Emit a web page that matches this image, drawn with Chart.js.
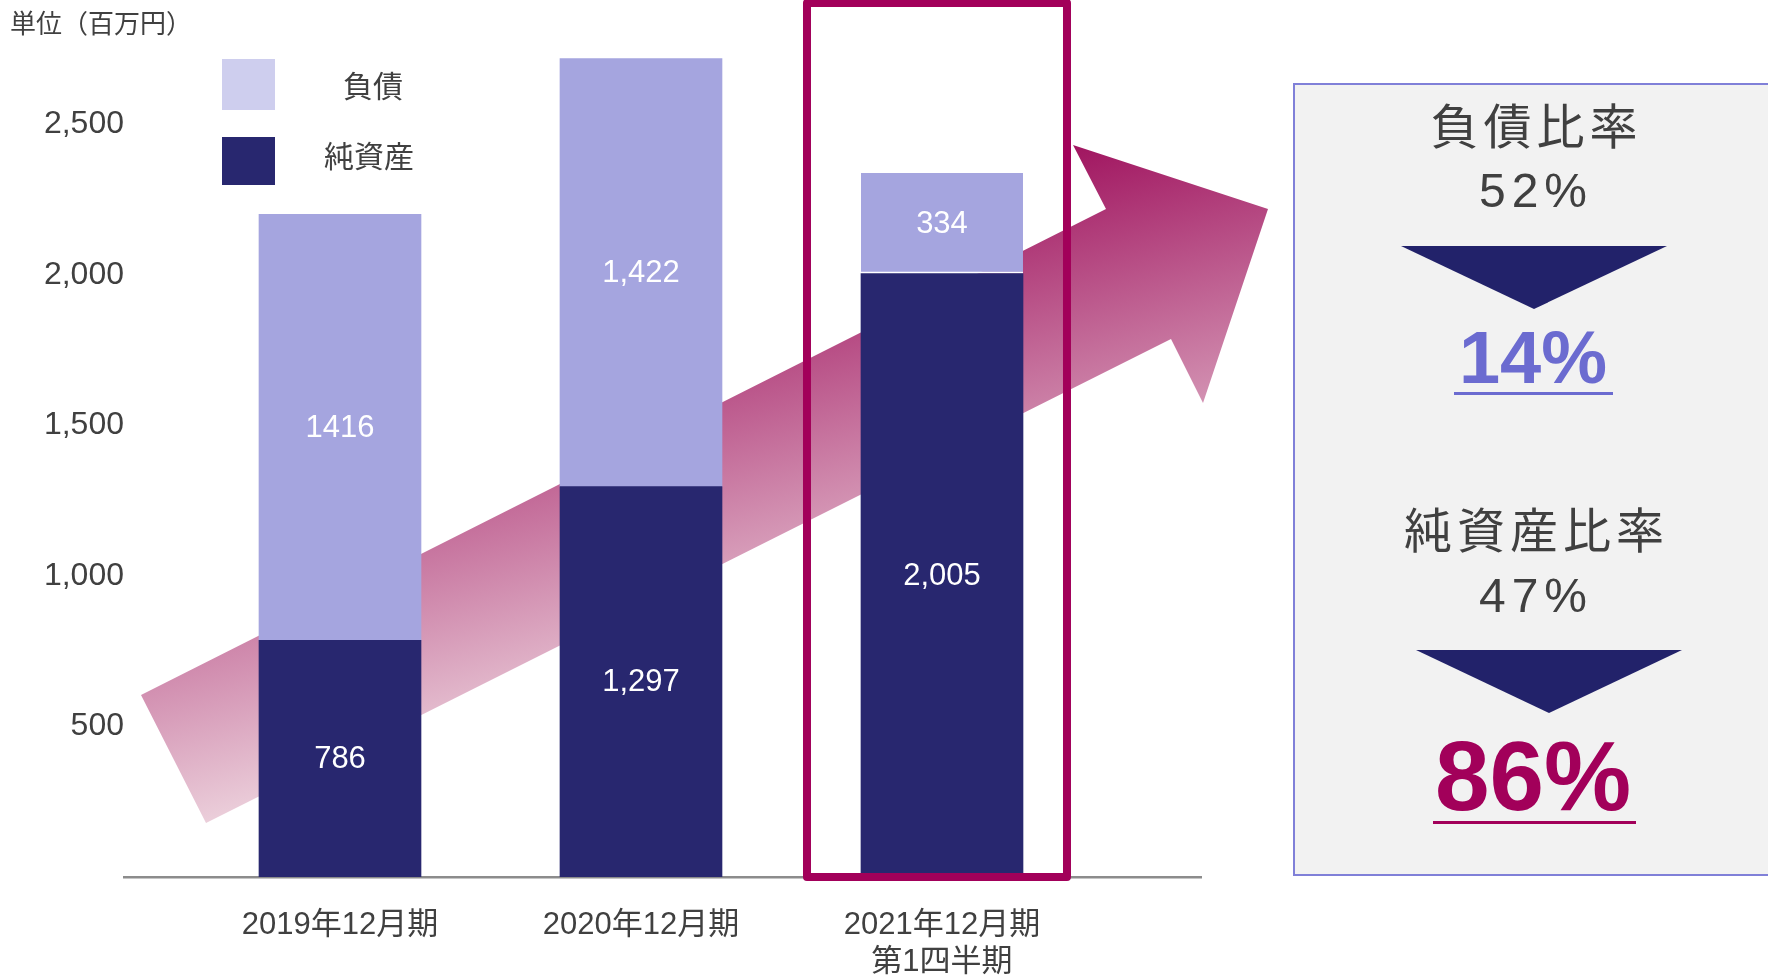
<!DOCTYPE html>
<html lang="ja">
<head>
<meta charset="utf-8">
<title>負債・純資産の推移</title>
<script src="https://cdn.jsdelivr.net/npm/chart.js@4/dist/chart.umd.min.js"></script>
<style>
  html, body { margin: 0; padding: 0; background: #ffffff; }
  #wrap { position: relative; width: 1768px; height: 978px; overflow: hidden; background: #ffffff; }
  #c { position: absolute; left: 0; top: 0; }
  .t { position: absolute; white-space: nowrap; text-align: center; color: #404040; }
  .jp { font-family: "Noto Sans CJK JP", "Noto Sans", sans-serif; }
  .lat { font-family: "Liberation Sans", Arial, sans-serif; }
</style>
</head>
<body>
<div id="wrap">
  <canvas id="c" width="1768" height="978"></canvas>
</div>
<script>
// ---------------- data ----------------
const unitLabel = "単位（百万円）";
const categories = ["2019年12月期", "2020年12月期", "2021年12月期\n第1四半期"];
const seriesNames = ["純資産", "負債"];
const netAssets = [786, 1297, 2005];
const liabilities = [1416, 1422, 334];
const netAssetLabels = ["786", "1,297", "2,005"];
const liabilityLabels = ["1416", "1,422", "334"];
const yTicks = [500, 1000, 1500, 2000, 2500];
const yTickLabels = ["500", "1,000", "1,500", "2,000", "2,500"];
const ratioTitles = ["負債比率", "純資産比率"];
const ratioBefore = ["52%", "47%"];
const ratioAfter = ["14%", "86%"];

// ---------------- styles ----------------
const COL_NET = "#28276F";
const COL_LIAB = "#A5A5DF";
const COL_LIAB_LEGEND = "#CECEEE";
const COL_TEXT = "#404040";
const COL_HIGHLIGHT = "#A2005A";
const FONT = '"Liberation Sans", "Noto Sans CJK JP", sans-serif';

// decorative arrow (page pixels)
const arrowPts = [[141,695],[1106,209],[1073,145],[1268,209],[1203,403],[1171,339],[206,823]];

const arrowPlugin = {
  id: "arrow",
  beforeDatasetsDraw(chart) {
    const ctx = chart.ctx;
    ctx.save();
    const g = ctx.createLinearGradient(112, 409, 225, 817);
    g.addColorStop(0, "#A0145F");
    g.addColorStop(1, "#EBCEDA");
    ctx.fillStyle = g;
    ctx.beginPath();
    arrowPts.forEach((p, i) => i ? ctx.lineTo(p[0], p[1]) : ctx.moveTo(p[0], p[1]));
    ctx.closePath();
    ctx.fill();
    ctx.restore();
  }
};

const labelPlugin = {
  id: "valueLabels",
  afterDatasetsDraw(chart) {
    const ctx = chart.ctx;
    const texts = [netAssetLabels, liabilityLabels];
    ctx.save();
    ctx.font = "31px " + FONT;
    ctx.fillStyle = "#ffffff";
    ctx.textAlign = "center";
    ctx.textBaseline = "middle";
    chart.data.datasets.forEach((ds, di) => {
      const meta = chart.getDatasetMeta(di);
      meta.data.forEach((el, i) => {
        const p = el.getProps(["x", "y", "base"], true);
        ctx.fillText(texts[di][i], p.x, (p.y + p.base) / 2 + 1);
      });
    });
    // highlight frame around the latest period
    const xs = chart.scales.x, ys = chart.scales.y;
    const cx = xs.getPixelForValue(categories.length - 1);
    const bottom = ys.getPixelForValue(0);
    ctx.strokeStyle = COL_HIGHLIGHT;
    ctx.lineWidth = 8;
    ctx.lineJoin = "round";
    ctx.strokeRect(cx - 135, 3, 260, bottom - 3);
    ctx.restore();
  }
};

Chart.defaults.font.family = FONT;

new Chart(document.getElementById("c"), {
  type: "bar",
  data: {
    datasets: [
      { label: seriesNames[0], data: netAssets.map((v, i) => ({ x: i, y: v })), backgroundColor: COL_NET },
      {
        label: seriesNames[1], data: liabilities.map((v, i) => ({ x: i, y: v })), backgroundColor: COL_LIAB,
        borderColor: "#ffffff",
        borderSkipped: false,
        borderWidth: (c) => (c.dataIndex === categories.length - 1 ? { bottom: 2, top: 0, left: 0, right: 0 } : 0)
      }
    ]
  },
  options: {
    responsive: false,
    animation: false,
    devicePixelRatio: 1,
    layout: { padding: { left: 0, right: 567, top: 19, bottom: 0 } },
    datasets: { bar: { barThickness: 162 } },
    plugins: { legend: { display: false }, tooltip: { enabled: false } },
    scales: {
      x: {
        type: "linear",
        stacked: true,
        offset: false,
        min: -0.7176,
        max: 2.8605,
        grid: { display: false, drawTicks: false, offset: false },
        border: { display: true, color: "#8c8c8c", width: 2.5 },
        afterBuildTicks(axis) { axis.ticks = categories.map((_, i) => ({ value: i })); },
        afterFit(axis) { axis.height = 101; },
        ticks: {
          autoSkip: false,
          maxRotation: 0,
          padding: 30,
          color: COL_TEXT,
          font: { size: 31, lineHeight: 1.2 },
          callback: (v) => (categories[v] !== undefined ? categories[v].split("\n") : "")
        }
      },
      y: {
        stacked: true,
        min: 0,
        max: 2850,
        grid: { display: false, drawTicks: false },
        border: { display: false },
        afterBuildTicks(axis) { axis.ticks = yTicks.map(v => ({ value: v })); },
        afterFit(axis) { axis.width = 124; },
        ticks: {
          padding: 0,
          color: COL_TEXT,
          font: { size: 32 },
          callback: (v) => { const k = yTicks.indexOf(v); return k >= 0 ? yTickLabels[k] : ""; }
        }
      }
    }
  },
  plugins: [arrowPlugin, labelPlugin]
});

// ---------------- HTML overlays ----------------
const wrap = document.getElementById("wrap");
function box(left, top, w, h, css) {
  const d = document.createElement("div");
  d.style.cssText = `position:absolute;left:${left}px;top:${top}px;width:${w}px;height:${h}px;` + (css || "");
  wrap.appendChild(d);
  return d;
}
function text(str, cx, cy, size, cls, css, ls) {
  const d = document.createElement("div");
  d.className = "t " + cls;
  d.textContent = str;
  const lh = Math.round(size * 1.3);
  ls = ls || 0;
  d.style.cssText += `left:${cx - 400}px;width:800px;top:${cy - lh / 2}px;height:${lh}px;line-height:${lh}px;font-size:${size}px;letter-spacing:${ls}px;padding-left:${ls}px;box-sizing:border-box;` + (css || "");
  wrap.appendChild(d);
  return d;
}

// unit label
const u = document.createElement("div");
u.className = "t jp";
u.textContent = unitLabel;
u.style.cssText += "left:10px;top:4px;font-size:26px;line-height:36px;text-align:left;letter-spacing:0px;";
wrap.appendChild(u);

// legend (top: 負債, bottom: 純資産)
box(222, 59, 53, 51, `background:${COL_LIAB_LEGEND};`);
box(222, 137, 53, 48, `background:${COL_NET};`);
text(seriesNames[1], 373, 84, 30, "jp");
text(seriesNames[0], 369, 154, 30, "jp");

// ratio panel
box(1293, 83, 500, 793, "background:#F2F2F2;border:2px solid #8080D8;box-sizing:border-box;");
text(ratioTitles[0], 1534, 123, 48, "jp", "", 5);
text(ratioBefore[0], 1533, 191, 48, "lat", "", 6);
box(1401, 246, 266, 63, "background:#22226A;clip-path:polygon(0 0,100% 0,50% 100%);");
text(ratioAfter[0], 1533, 358, 74, "lat", "font-weight:bold;color:#6B6BD0;");
box(1454, 392, 159, 3, "background:#6B6BD0;");

text(ratioTitles[1], 1534, 527, 48, "jp", "", 5);
text(ratioBefore[1], 1533, 596, 48, "lat", "", 6);
box(1416, 650, 266, 63, "background:#22226A;clip-path:polygon(0 0,100% 0,50% 100%);");
text(ratioAfter[1], 1533, 776, 98, "lat", "font-weight:bold;color:#A2005A;");
box(1433, 821, 203, 3, "background:#A2005A;");
</script>
</body>
</html>
